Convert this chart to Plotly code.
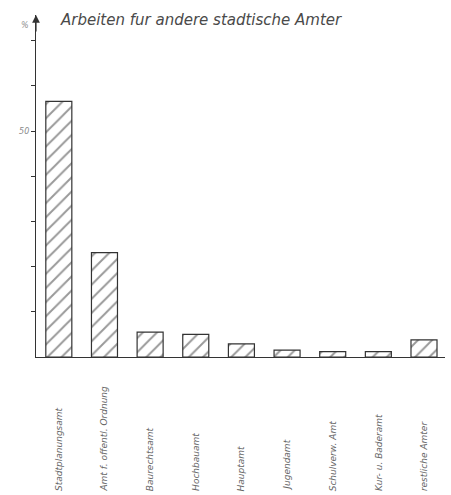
"""
Balkendiagramm: Arbeiten fuer andere staedtische Aemter (Anteile in %).
Nachbau einer gescannten Zeichnung mit schraffierten Balken.
"""
import plotly.graph_objects as go

# Daten
aemter = [
    "Stadtplanungsamt",
    "Amt f. offentl. Ordnung",
    "Baurechtsamt",
    "Hochbauamt",
    "Hauptamt",
    "Jugendamt",
    "Schulverw. Amt",
    "Kur- u. Baderamt",
    "restliche Amter",
]
anteile = [56.6, 23.1, 5.5, 5.0, 2.9, 1.5, 1.2, 1.2, 3.8]
y_ticks = [10, 20, 30, 40, 50, 60, 70]
y_ticktext = ["", "", "", "", "50", "", ""]
titel = "Arbeiten fur andere stadtische Amter"

LINIE = "#333333"
TEXT = "#666666"

x_pos = list(range(len(aemter)))

fig = go.Figure(data=[
    go.Bar(
        x=x_pos,
        y=anteile,
        width=0.57,
        marker=dict(
            color="white",
            line=dict(color=LINIE, width=1.2),
            pattern=dict(shape="/", fgcolor="#333333", bgcolor="white",
                         size=10, solidity=0.2),
        ),
        hovertext=aemter,
        name="Anteil",
    )
])

# Beschriftungen der Balken: senkrecht, unten buendig
for i, name in enumerate(aemter):
    fig.add_annotation(
        x=i, xref="x",
        y=-0.398, yref="paper",
        text=f"<i>{name}</i>",
        textangle=-90,
        showarrow=False,
        xanchor="center", yanchor="bottom",
        font=dict(family="DejaVu Sans", size=9, color=TEXT),
    )

# Titel
fig.add_annotation(
    x=0.054, xref="paper", y=0.985, yref="paper",
    text=f"<i>{titel}</i>",
    showarrow=False, xanchor="left", yanchor="middle",
    font=dict(family="DejaVu Sans", size=15, color="#4a4a4a"),
)

# Einheit
fig.add_annotation(
    x=-0.012, xref="paper", y=0.97, yref="paper",
    text="<i>%</i>", showarrow=False, xanchor="right", yanchor="middle",
    font=dict(family="DejaVu Sans", size=8, color="#8a8a8a"),
)

# Pfeil an der y-Achse
fig.add_annotation(
    x=0, xref="paper", y=1.0, yref="paper",
    ax=0, ay=18, text="", showarrow=True,
    arrowhead=2, arrowsize=1.3, arrowwidth=1.2, arrowcolor=LINIE,
)

fig.update_layout(
    width=451,
    height=495,
    margin=dict(l=36, r=6, t=15, b=138),
    paper_bgcolor="white",
    plot_bgcolor="white",
    showlegend=False,
    xaxis=dict(
        range=[-0.5, 8.46],
        showline=True, linecolor=LINIE, linewidth=1.2,
        showticklabels=False, ticks="", showgrid=False, zeroline=False,
    ),
    yaxis=dict(
        range=[0, 75.7],
        showline=True, linecolor=LINIE, linewidth=1.2,
        tickvals=y_ticks, ticktext=y_ticktext,
        ticks="outside", ticklen=4, tickcolor=LINIE,
        tickfont=dict(family="DejaVu Sans", size=8, color="#8a8a8a", style="italic"),
        showgrid=False, zeroline=False,
    ),
)

# Rand des Seitenkoerpers entfernen, damit die Figur genau ins Fenster passt
fig.write_html(
    "out.html",
    config={"displayModeBar": False},
    post_script="document.body.style.margin='0';",
)
